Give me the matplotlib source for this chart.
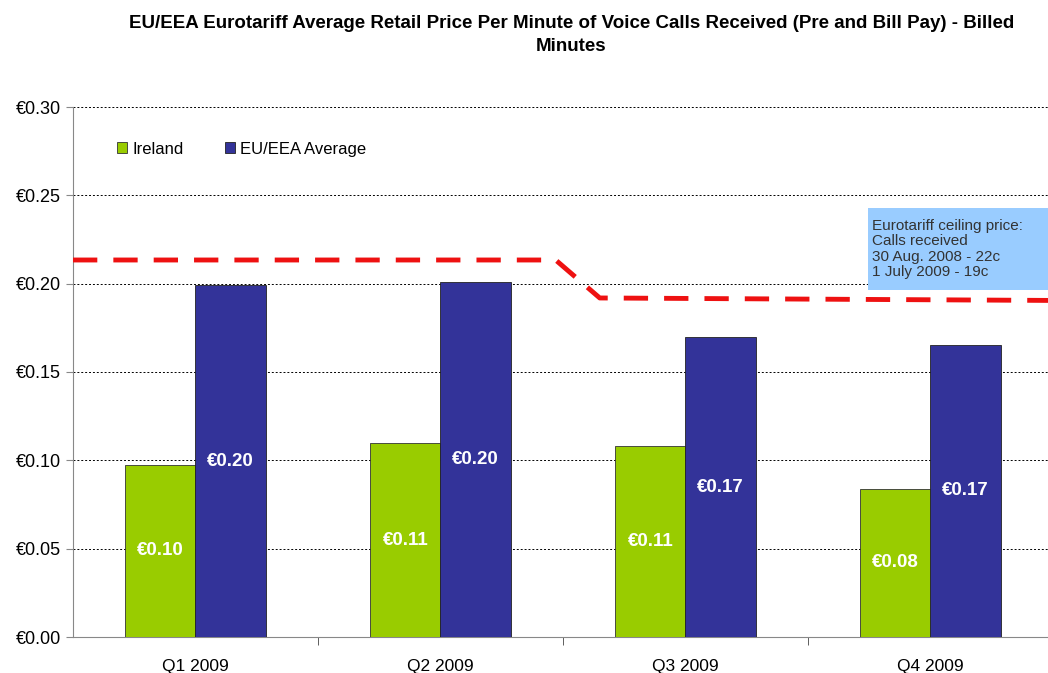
import matplotlib.pyplot as plt
import numpy as np

plt.rcParams['font.family'] = ['Liberation Sans', 'DejaVu Sans']

# Данные
quarters = ["Q1 2009", "Q2 2009", "Q3 2009", "Q4 2009"]
ireland = [0.0974, 0.1098, 0.1081, 0.0838]
eu_avg = [0.1992, 0.2009, 0.1698, 0.1653]
ceiling_x = [-0.5, 1.47, 1.65, 3.5]
ceiling_y = [0.2134, 0.2134, 0.1919, 0.1905]
y_ticks = [0.0, 0.05, 0.10, 0.15, 0.20, 0.25, 0.30]

green = "#99CC00"
blue = "#333399"

fig = plt.figure(figsize=(10.48, 6.73), dpi=100)
ax = fig.add_axes([73 / 1048, 36 / 673, 980 / 1048, 530 / 673])

x = np.arange(len(quarters))
w = 0.286
b1 = ax.bar(x - w / 2, ireland, w, color=green, edgecolor="#333333", linewidth=0.6, label="Ireland", zorder=3)
b2 = ax.bar(x + w / 2, eu_avg, w, color=blue, edgecolor="#222222", linewidth=0.6, label="EU/EEA Average", zorder=3)

# Подписи на столбцах
for bars, vals in [(b1, ireland), (b2, eu_avg)]:
    for r, v in zip(bars, vals):
        ax.text(r.get_x() + r.get_width() / 2, v / 2, f"€{v:.2f}", ha="center", va="center",
                color="white", fontsize=13.5, fontweight="bold", zorder=4)

# Линия потолка цены
ax.plot(ceiling_x, ceiling_y, color="#EE1111", linewidth=3.5, dashes=(5, 3.3), zorder=5, clip_on=False)

# Синий блок с пояснением
ax.add_patch(plt.Rectangle((2.745, 0.1964), 0.9, 0.0464, facecolor="#99CCFF", edgecolor="none",
                           zorder=6, clip_on=False))
ax.text(2.76, 0.2196, "Eurotariff ceiling price:\nCalls received\n30 Aug. 2008 - 22c\n1 July 2009 - 19c",
        fontsize=11, color="#333333", va="center", ha="left", linespacing=1.12, zorder=7)

ax.set_xlim(-0.5, 3.5)
ax.set_ylim(0, 0.30)
ax.set_yticks(y_ticks)
ax.set_yticklabels([f"€{t:.2f}" for t in y_ticks], fontsize=13)
ax.yaxis.grid(True, color="black", linestyle=(0, (2, 2)), linewidth=0.7, zorder=0)
ax.set_xticks(x)
ax.set_xticklabels(quarters, fontsize=12.5)
ax.set_xticks([0.5, 1.5, 2.5], minor=True)
ax.tick_params(axis="x", which="major", length=0, pad=16)
ax.tick_params(axis="x", which="minor", length=6, color="#444444")
ax.tick_params(axis="y", length=5, color="#888888")

for s in ["top", "right"]:
    ax.spines[s].set_visible(False)
ax.spines["left"].set_color("#888888")
ax.spines["bottom"].set_color("#888888")

ax.legend(loc="upper left", bbox_to_anchor=(0.03, 0.963), ncol=2, frameon=False, fontsize=12,
          handlelength=0.6, handleheight=0.6, handletextpad=0.3, columnspacing=2.5)

fig.text(0.545, 0.977, "EU/EEA Eurotariff Average Retail Price Per Minute of Voice Calls Received (Pre and Bill Pay) - Billed\nMinutes",
         ha="center", va="top", fontsize=13.5, fontweight="bold", linespacing=1.4)

plt.savefig("out.png", dpi=100)
